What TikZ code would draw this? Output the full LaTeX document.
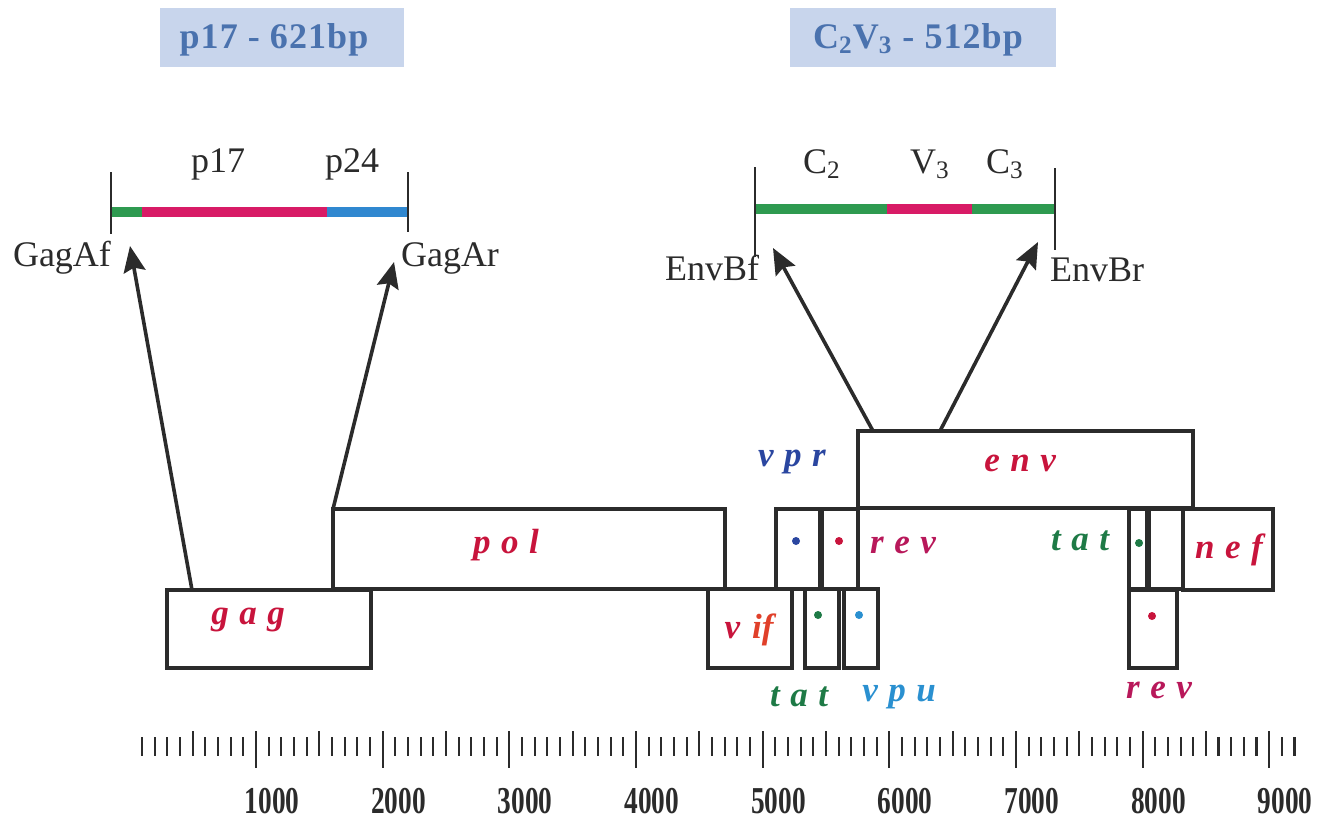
\documentclass[tikz,border=0pt]{standalone}
\usepackage{fontspec}
\setmainfont{Liberation Serif}
\usetikzlibrary{arrows.meta}
\definecolor{genered}{HTML}{C8143C}
\definecolor{revred}{HTML}{B8185A}
\definecolor{vifred}{HTML}{E0402A}
\definecolor{tatgreen}{HTML}{1E7A46}
\definecolor{vprblue}{HTML}{2A46A0}
\definecolor{vpublue}{HTML}{2A90D0}
\definecolor{bargreen}{HTML}{2E9A50}
\definecolor{barred}{HTML}{D81B66}
\definecolor{barblue}{HTML}{3088D0}
\definecolor{titlefill}{HTML}{C8D5EC}
\definecolor{titletext}{HTML}{4A72AE}
\definecolor{ink}{HTML}{2B2B2B}
\newcommand{\rulenum}[1]{\scalebox{0.72}[1]{#1}}
\begin{document}
\begin{tikzpicture}[x=0.5pt,y=-0.5pt,line width=0.4pt,
  every node/.style={inner sep=1pt},
  box/.style={draw=ink,line width=1.9pt},
  arr/.style={draw=ink,line width=1.8pt,-{Stealth[length=13pt,width=11pt,inset=2pt]}},
  gene/.style={font=\fontsize{17.5}{20}\selectfont\bfseries\itshape\addfontfeatures{LetterSpace=30}},
  lbl/.style={font=\fontsize{18}{20}\selectfont,text=ink},
  ttl/.style={font=\fontsize{18}{20}\selectfont\bfseries\addfontfeatures{LetterSpace=3},text=titletext},
  num/.style={font=\fontsize{19}{21}\selectfont\bfseries,text=ink},
  bar/.style={line width=4.8pt},
  tick/.style={draw=ink,line width=1.1pt}]
\useasboundingbox (0,0) rectangle (1336,819);
\coordinate (gagf) at (192,590);
\coordinate (gagr) at (333,509);
\coordinate (envf) at (873,431);
\coordinate (envr) at (940,431);
\coordinate (tipgf) at (130,246);
\coordinate (tipgr) at (394,262);
\coordinate (tipef) at (773,248);
\coordinate (tiper) at (1038,242);
\fill[titlefill] (160,8) rectangle (404,67);
\fill[titlefill] (790,8) rectangle (1056,67);
\node[ttl] (ttlgag) at (274,40) {p17 - 621bp};
\node[ttl] (ttlenv) at (918,40) {C\textsubscript{2}V\textsubscript{3} - 512bp};
\draw[bar,bargreen] (111,212) -- (142,212);
\draw[bar,barred] (142,212) -- (327,212);
\draw[bar,barblue] (327,212) -- (408,212);
\draw[draw=ink,line width=0.8pt] (111,172) -- (111,234);
\draw[draw=ink,line width=0.8pt] (408,172) -- (408,232);
\draw[bar,bargreen] (755,209) -- (887,209);
\draw[bar,barred] (887,209) -- (972,209);
\draw[bar,bargreen] (972,209) -- (1055,209);
\draw[draw=ink,line width=0.8pt] (755,167) -- (755,257);
\draw[draw=ink,line width=0.8pt] (1055,168) -- (1055,250);
\node[lbl] (p17) at (218,164) {p17};
\node[lbl] (p24) at (352,164) {p24};
\node[lbl] (c2) at (822,164) {C\textsubscript{2}};
\node[lbl] (v3) at (930,164) {V\textsubscript{3}};
\node[lbl] (c3) at (1005,164) {C\textsubscript{3}};
\node[lbl] (gagaf) at (62,258) {GagAf};
\node[lbl] (gagar) at (450,258) {GagAr};
\node[lbl] (envbf) at (712,268) {EnvBf};
\node[lbl] (envbr) at (1097,270) {EnvBr};
\draw[arr] (gagf) -- (tipgf);
\draw[arr] (gagr) -- (tipgr);
\draw[arr] (envf) -- (tipef);
\draw[arr] (envr) -- (tiper);
\draw[box] (167,590) rectangle (371,668);
\draw[box] (333,509) rectangle (725,589);
\draw[box] (708,589) rectangle (792,668);
\draw[box] (776,509) rectangle (820,589);
\draw[box] (822,509) rectangle (858,589);
\draw[box] (858,431) rectangle (1193,508);
\draw[box] (805,589) rectangle (839,668);
\draw[box] (844,589) rectangle (878,668);
\draw[box] (1129,509) rectangle (1147,589);
\draw[box] (1149,509) rectangle (1183,589);
\draw[box] (1183,509) rectangle (1273,590);
\draw[box] (1129,590) rectangle (1177,668);
\fill[vprblue] (796,541) circle[radius=4];
\fill[genered] (839,541) circle[radius=4];
\fill[tatgreen] (818,615) circle[radius=4];
\fill[vpublue] (859,615) circle[radius=4];
\fill[tatgreen] (1139,543) circle[radius=4];
\fill[genered] (1152,616) circle[radius=4];
\node[gene,text=genered] (gagl) at (248,620) {gag};
\node[gene,text=genered] (poll) at (506,545) {pol};
\node[gene] (vifl) at (749,630) {\addfontfeatures{LetterSpace=0}\textcolor{genered}{v}\hspace{6pt}\textcolor{vifred}{if}};
\node[gene,text=genered] (envl) at (1020,463) {env};
\node[gene,text=vprblue] (vprl) at (792,462) {vpr};
\node[gene,text=revred] (rev1l) at (903,545) {rev};
\node[gene,text=tatgreen] (tat2l) at (1080,541) {tat};
\node[gene,text=genered] (nefl) at (1229,550) {nef};
\node[gene,text=tatgreen] (tat1l) at (799,697) {tat};
\node[gene,text=vpublue] (vpul) at (899,697) {vpu};
\node[gene,text=revred] (rev2l) at (1159,690) {rev};
\begin{scope}[shift={(129.4,0)},x=0.06333pt]
\foreach \b in {100,200,...,9200}
  \draw[tick] (\b,737) -- (\b,756);
\foreach \b in {500,1500,...,8500}
  \draw[tick] (\b,731) -- (\b,756);
\foreach \b in {1000,2000,...,9000}
  \draw[tick] (\b,731) -- (\b,768);
\foreach \b in {1000,2000,...,9000}
  \node[num] (n\b) at (\b+126,801) {\rulenum{\b}};
\end{scope}
\end{tikzpicture}
\end{document}
